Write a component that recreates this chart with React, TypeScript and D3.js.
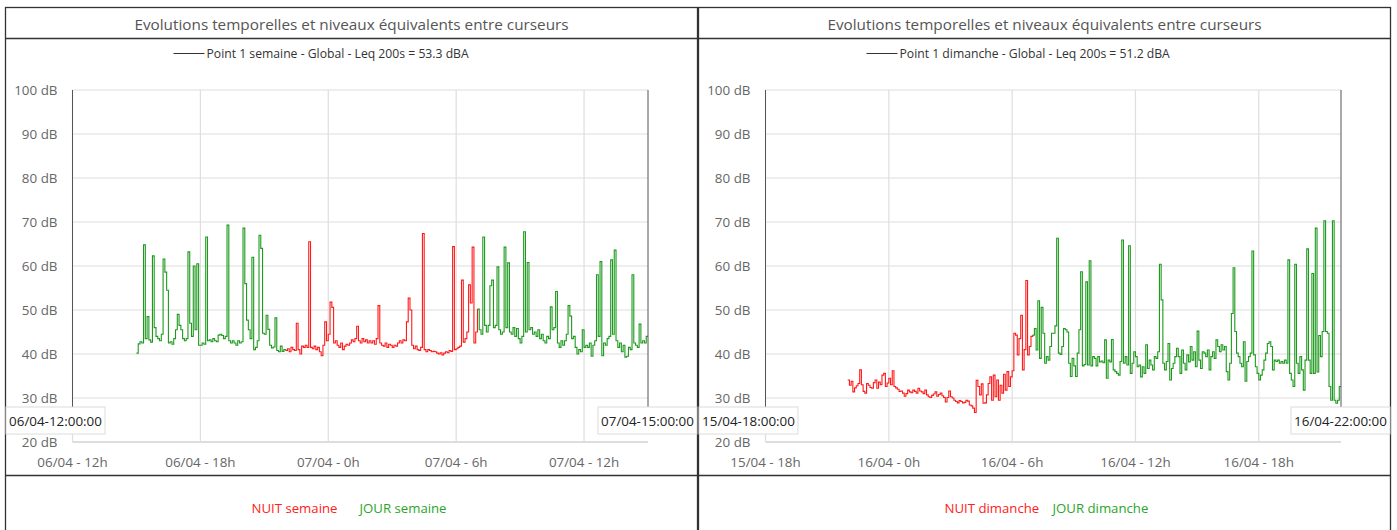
import React from 'react';
import * as d3 from 'd3';

const W = 1397;
const H = 530;

const chartTitle = 'Evolutions temporelles et niveaux équivalents entre curseurs';
const yTicks = [20, 30, 40, 50, 60, 70, 80, 90, 100];

// Night period (NUIT) 22h -> 7h, day (JOUR) 7h -> 22h
const nightStartHour = 22;
const nightEndHour = 7;
const stepMinutes = 5;

// ---- Panel 1: semaine (06/04 15:00 -> 07/04 15:00, 5 min steps)
const semaineLevels = [
  40.2, 42.3, 42.8, 42.5, 64.8, 43.5, 48.5, 43.2, 42.7, 62.3, 46.0, 44.0,
  43.5, 43.0, 44.5, 61.6, 58.6, 54.5, 42.5, 42.8, 42.2, 43.5, 45.5, 49.0,
  46.5, 45.5, 43.5, 43.0, 43.5, 63.2, 47.0, 44.0, 60.0, 45.5, 60.5, 42.0,
  42.0, 42.5, 42.2, 66.6, 43.0, 43.2, 42.8, 43.5, 43.0, 42.8, 44.3, 44.5,
  44.2, 43.5, 44.0, 69.3, 43.0, 42.5, 43.0, 42.5, 42.0, 43.0, 42.5, 42.8,
  68.6, 56.0, 47.7, 45.5, 43.5, 62.0, 41.0, 41.5, 43.0, 67.0, 64.0, 44.7,
  44.5, 48.8, 45.6, 42.0, 41.4, 41.6, 48.2, 40.8, 40.5, 41.8, 40.6, 41.0,
  40.8, 41.2, 40.5, 41.5, 41.0, 40.8, 47.0, 41.0, 40.0, 41.8, 41.5, 42.0,
  41.5, 65.5, 41.5, 41.2, 41.8, 41.0, 41.5, 40.5, 39.6, 42.0, 47.3, 43.0,
  44.5, 51.8, 50.6, 42.5, 43.0, 42.0, 41.5, 42.5, 41.0, 41.8, 42.2, 42.0,
  42.5, 43.2, 42.8, 43.5, 46.3, 43.0, 42.5, 43.5, 42.8, 43.2, 42.5, 43.0,
  42.5, 43.0, 42.2, 43.5, 51.0, 42.5, 42.0, 41.8, 42.5, 41.5, 42.2, 42.0,
  41.5, 42.0, 41.8, 42.5, 43.0, 42.5, 43.2, 43.0, 47.3, 52.7, 50.0, 42.0,
  41.2, 41.8, 41.0, 40.8, 41.5, 67.4, 41.0, 40.5, 41.0, 40.8, 40.5, 40.6,
  40.5, 40.2, 40.0, 40.3, 39.8, 40.2, 40.5, 40.3, 40.8, 40.6, 64.4, 41.0,
  41.2, 41.5, 41.8, 56.8, 42.7, 43.5, 45.0, 55.7, 51.6, 64.3, 42.5, 45.0,
  50.2, 45.5, 44.5, 66.6, 46.5, 45.0, 46.5, 55.5, 56.8, 46.0, 46.5, 59.8,
  45.5, 44.5, 45.0, 64.3, 46.0, 60.7, 45.0, 44.5, 46.0, 44.0, 45.8, 43.5,
  42.5, 44.0, 67.8, 45.0, 60.8, 45.5, 46.0, 44.5, 45.0, 44.0, 45.5, 43.5,
  44.5, 43.0, 42.5, 44.0, 43.5, 50.7, 45.5, 46.0, 54.2, 42.5, 41.5, 43.0,
  42.0, 43.0, 44.5, 51.0, 48.6, 43.5, 44.0, 41.5, 40.0, 41.0, 40.5, 45.5,
  41.5, 42.0, 41.5, 42.5, 39.5, 42.0, 43.0, 58.0, 44.0, 61.0, 39.6, 42.5,
  42.0, 43.5, 44.0, 61.4, 44.5, 63.6, 43.0, 41.5, 42.5, 40.5, 42.0, 39.3,
  39.5, 41.5, 41.0, 58.0, 42.5, 42.0, 41.5, 46.8, 42.5, 43.0, 42.5, 44.0,
];

// ---- Panel 2: dimanche (15/04 22:00 -> 16/04 22:00, 5 min steps)
const dimancheLevels = [
  34.1, 32.9, 33.8, 31.4, 32.3, 32.8, 33.3, 36.4, 33.0, 31.5, 31.1, 33.3,
  32.9, 32.4, 32.2, 33.5, 34.1, 32.2, 33.6, 33.0, 35.2, 35.6, 32.6, 33.4,
  34.5, 33.0, 36.2, 32.6, 32.3, 32.0, 31.5, 31.6, 31.1, 30.4, 31.0, 31.8,
  31.4, 31.2, 31.8, 31.5, 31.1, 32.2, 31.6, 31.4, 31.0, 31.8, 30.7, 30.3,
  30.1, 30.6, 30.9, 31.4, 30.4, 30.8, 31.1, 30.5, 30.1, 29.1, 30.1, 31.6,
  30.3, 30.0, 29.5, 29.2, 28.9, 29.4, 29.2, 28.9, 29.0, 29.5, 29.3, 28.4,
  28.2, 27.7, 26.7, 34.0, 32.6, 30.7, 33.2, 28.8, 28.9, 30.7, 33.3, 34.8,
  29.5, 35.2, 30.3, 34.1, 29.5, 32.9, 31.1, 35.4, 31.8, 36.0, 32.6, 34.8,
  36.2, 44.7, 44.3, 39.8, 43.5, 48.8, 36.4, 41.0, 56.7, 39.8, 41.7, 44.0,
  44.3, 45.8, 40.9, 52.1, 39.0, 50.6, 44.7, 37.9, 39.4, 38.6, 41.7, 44.7,
  44.7, 46.4, 66.3, 40.2, 39.9, 41.7, 45.8, 45.5, 45.0, 37.9, 34.9, 39.0,
  37.3, 34.9, 40.2, 45.5, 58.7, 37.3, 37.6, 56.4, 37.5, 61.2, 37.3, 39.4,
  39.0, 37.3, 39.4, 38.2, 38.4, 38.0, 43.2, 34.5, 38.6, 38.2, 43.3, 36.4,
  36.0, 35.6, 35.2, 38.3, 65.9, 37.9, 39.4, 37.5, 64.6, 35.6, 37.9, 40.5,
  39.4, 37.1, 37.5, 34.8, 37.1, 35.6, 42.1, 36.7, 38.6, 37.5, 36.4, 39.4,
  39.0, 40.5, 60.4, 52.3, 37.9, 36.4, 38.3, 42.4, 34.1, 36.7, 37.9, 39.4,
  41.3, 39.4, 35.6, 40.9, 37.9, 36.4, 39.8, 38.2, 41.7, 38.6, 40.5, 37.1,
  45.2, 38.6, 36.7, 40.5, 40.2, 39.4, 40.9, 36.4, 39.4, 40.5, 39.0, 43.2,
  41.7, 40.5, 42.1, 40.9, 41.7, 36.0, 34.1, 37.9, 49.2, 59.6, 45.1, 40.2,
  39.4, 37.9, 37.1, 42.8, 33.8, 38.3, 39.4, 40.2, 63.4, 39.8, 37.1, 35.6,
  34.1, 35.2, 36.4, 38.6, 40.2, 42.4, 42.8, 41.7, 36.4, 38.6, 38.3, 38.6,
  37.9, 38.3, 37.9, 38.6, 37.9, 61.4, 35.6, 34.1, 32.6, 60.4, 37.9, 35.6,
  39.4, 36.4, 31.8, 38.6, 63.9, 38.6, 35.6, 58.3, 35.6, 68.6, 35.9, 44.2,
  39.4, 45.1, 70.3, 45.1, 44.7, 32.6, 29.5, 70.3, 29.5, 28.8, 29.5, 32.6,
];

const semaineXTicks = ['2023-04-06 12:00', '2023-04-06 18:00', '2023-04-07 00:00', '2023-04-07 06:00', '2023-04-07 12:00'];
const semaineXTickLabels = ['06/04 - 12h', '06/04 - 18h', '07/04 - 0h', '07/04 - 6h', '07/04 - 12h'];
const dimancheXTicks = ['2023-04-15 18:00', '2023-04-16 00:00', '2023-04-16 06:00', '2023-04-16 12:00', '2023-04-16 18:00'];
const dimancheXTickLabels = ['15/04 - 18h', '16/04 - 0h', '16/04 - 6h', '16/04 - 12h', '16/04 - 18h'];

const semaineCursors = ['2023-04-06 12:00', '2023-04-07 15:00'];
const semaineCursorLabels = ['06/04-12:00:00', '07/04-15:00:00'];
const dimancheCursors = ['2023-04-15 18:00', '2023-04-16 22:00'];
const dimancheCursorLabels = ['15/04-18:00:00', '16/04-22:00:00'];

const semaineDataStart = '2023-04-06 15:00';
const dimancheDataStart = '2023-04-15 22:00';

const semaineLegend = 'Point 1 semaine - Global - Leq 200s = 53.3 dBA';
const dimancheLegend = 'Point 1 dimanche - Global - Leq 200s = 51.2 dBA';
const semainePeriods = ['NUIT semaine', 'JOUR semaine'];
const dimanchePeriods = ['NUIT dimanche', 'JOUR dimanche'];

const NIGHT_COLOR = '#ff1a1a';
const DAY_COLOR = '#1d9a1d';
const NIGHT_TEXT = '#ff2020';
const DAY_TEXT = '#2aa52a';
const FONT = "'Open Sans', 'Noto Sans', sans-serif";

const parse = d3.timeParse('%Y-%m-%d %H:%M');

type PanelProps = {
  x0: number;
  levels: number[];
  dataStart: string;
  xTicks: string[];
  xTickLabels: string[];
  cursors: string[];
  cursorLabels: string[];
  legend: string;
  periods: string[];
};

const PANEL_W = 692;
const TOP = 7.5;
const PLOT_TOP = 90;
const PLOT_BOTTOM = 442;

function isNight(d: Date) {
  const h = d.getHours();
  return h >= nightStartHour || h < nightEndHour;
}

function Panel(p: PanelProps) {
  const { x0 } = p;
  const plotL = x0 + 67;
  const plotR = x0 + 642.5;
  const x = d3.scaleTime().domain([parse(p.cursors[0])!, parse(p.cursors[1])!]).range([plotL, plotR]);
  const y = d3.scaleLinear().domain([20, 100]).range([PLOT_BOTTOM, PLOT_TOP]);
  const start = parse(p.dataStart)!;
  const pts = p.levels.map((v, i) => ({ t: d3.timeMinute.offset(start, i * stepMinutes), v }));
  const end = d3.timeMinute.offset(start, p.levels.length * stepMinutes);

  const runs: { night: boolean; pts: { t: Date; v: number }[] }[] = [];
  pts.forEach((d) => {
    const n = isNight(d.t);
    if (!runs.length || runs[runs.length - 1].night !== n) {
      if (runs.length) runs[runs.length - 1].pts.push(d);
      runs.push({ night: n, pts: [d] });
    } else runs[runs.length - 1].pts.push(d);
  });
  const last = runs[runs.length - 1];
  last.pts.push({ t: end, v: pts[pts.length - 1].v });

  const line = d3
    .line<{ t: Date; v: number }>()
    .x((d) => x(d.t))
    .y((d) => y(d.v))
    .curve(d3.curveStepAfter);

  const cx = x0 + PANEL_W / 2;
  const boxW = 100;
  const boxH = 27;
  const boxY = 407;

  return (
    <g>
      <rect x={x0} y={TOP} width={PANEL_W} height={H + 20} fill="#fff" stroke="#333" strokeWidth={1.3} />
      <line x1={x0} x2={x0 + PANEL_W} y1={38.5} y2={38.5} stroke="#333" strokeWidth={1.3} />
      <line x1={x0} x2={x0 + PANEL_W} y1={475.5} y2={475.5} stroke="#333" strokeWidth={1.6} />
      <text x={cx} y={23.5} textAnchor="middle" dominantBaseline="central" fontSize={15.3} fill="#555">
        {chartTitle}
      </text>

      <line x1={x0 + 168} x2={x0 + 199} y1={53.5} y2={53.5} stroke="#333" strokeWidth={1} />
      <text x={x0 + 201} y={53.5} dominantBaseline="central" fontSize={12.2} fill="#333">
        {p.legend}
      </text>

      {yTicks.map((t) => (
        <g key={'y' + t}>
          <line x1={plotL} x2={plotR} y1={y(t)} y2={y(t)} stroke={t === 20 ? '#d2d2d2' : '#dedede'} strokeWidth={t === 20 ? 1.6 : 1.2} />
          <text x={plotL - 15} y={y(t)} textAnchor="end" dominantBaseline="central" fontSize={13.4} fill="#666">
            {`${t} dB`}
          </text>
        </g>
      ))}
      {p.xTicks.map((t, i) => {
        const xx = x(parse(t)!);
        return (
          <g key={'x' + t}>
            <line x1={xx} x2={xx} y1={PLOT_TOP} y2={PLOT_BOTTOM} stroke="#dedede" strokeWidth={1.2} />
            <text x={xx} y={462} textAnchor="middle" dominantBaseline="central" fontSize={13.4} fill="#666">
              {p.xTickLabels[i]}
            </text>
          </g>
        );
      })}

      {runs.map((r, i) => (
        <path key={i} d={line(r.pts) || ''} fill="none" stroke={r.night ? NIGHT_COLOR : DAY_COLOR} strokeWidth={1.1} />
      ))}

      {p.cursors.map((c, i) => {
        const xx = x(parse(c)!);
        const bx = i === 0 ? x0 : x0 + PANEL_W - boxW;
        return (
          <g key={'c' + c}>
            <line x1={xx} x2={xx} y1={PLOT_TOP} y2={boxY} stroke="#555" strokeWidth={1} />
            <rect x={bx + 0.5} y={boxY} width={boxW - 1} height={boxH} fill="#fff" stroke="#dcdcdc" strokeWidth={1} />
            <text x={bx + boxW / 2} y={boxY + boxH / 2} textAnchor="middle" dominantBaseline="central" fontSize={13.4} fill="#222">
              {p.cursorLabels[i]}
            </text>
          </g>
        );
      })}

      <text x={cx - 100} y={507.5} dominantBaseline="central" fontSize={13.2} fill={NIGHT_TEXT}>
        {p.periods[0]}
      </text>
      <text x={cx + 8} y={507.5} dominantBaseline="central" fontSize={13.2} fill={DAY_TEXT}>
        {p.periods[1]}
      </text>
    </g>
  );
}

export default function App() {
  return (
    <svg
      width={W}
      height={H}
      viewBox={`0 0 ${W} ${H}`}
      style={{ position: 'absolute', left: 0, top: 0, background: '#fff', fontFamily: FONT }}
    >
      <rect x={0} y={0} width={W} height={H} fill="#fff" />
      <Panel
        x0={5.5}
        levels={semaineLevels}
        dataStart={semaineDataStart}
        xTicks={semaineXTicks}
        xTickLabels={semaineXTickLabels}
        cursors={semaineCursors}
        cursorLabels={semaineCursorLabels}
        legend={semaineLegend}
        periods={semainePeriods}
      />
      <Panel
        x0={698.5}
        levels={dimancheLevels}
        dataStart={dimancheDataStart}
        xTicks={dimancheXTicks}
        xTickLabels={dimancheXTickLabels}
        cursors={dimancheCursors}
        cursorLabels={dimancheCursorLabels}
        legend={dimancheLegend}
        periods={dimanchePeriods}
      />
    </svg>
  );
}
